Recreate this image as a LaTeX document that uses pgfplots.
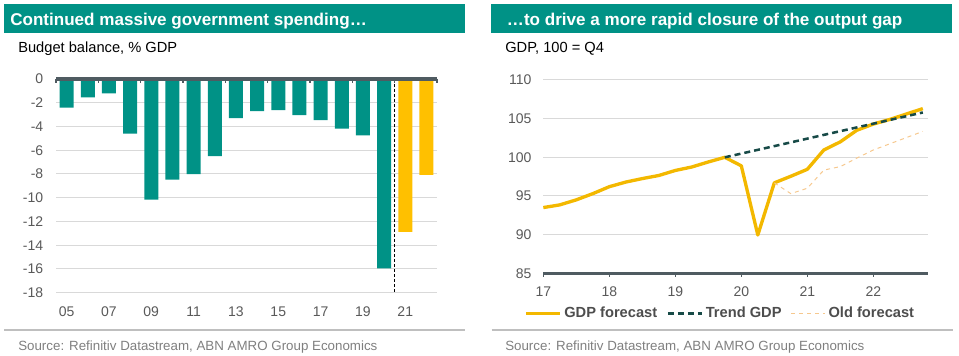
\documentclass[border=0pt]{standalone}
\usepackage{pgfplots}
\pgfplotsset{compat=1.18}
\usepackage{fontspec}
\setmainfont{Liberation Sans}
\definecolor{abngreen}{HTML}{009286}
\definecolor{abnyellow}{HTML}{FFC000}
\definecolor{gdpline}{HTML}{F3B800}
\definecolor{trenddark}{HTML}{174A47}
\definecolor{oldfc}{HTML}{F6C88E}
\definecolor{axisgrey}{HTML}{4F5B61}
\definecolor{gridgrey}{HTML}{D9D9D9}
\definecolor{ticktext}{HTML}{595959}
\definecolor{srcgrey}{HTML}{7F7F7F}
\definecolor{rulegrey}{HTML}{BFBFBF}
\definecolor{legtext}{HTML}{4D4D4D}

\pgfplotstableread{
x y
0 -2.42
1 -1.55
2 -1.22
3 -4.60
4 -10.15
5 -8.47
6 -8.02
7 -6.50
8 -3.30
9 -2.70
10 -2.62
11 -3.04
12 -3.46
13 -4.19
14 -4.75
15 -15.95
}\histbal
\pgfplotstableread{
x y
16 -12.88
17 -8.07
}\fcbal
\pgfplotstableread{
x y
17.00 93.50
17.25 93.85
17.50 94.50
17.75 95.30
18.00 96.20
18.25 96.80
18.50 97.25
18.75 97.65
19.00 98.30
19.25 98.75
19.50 99.40
19.75 100.00
20.00 98.90
20.25 89.95
20.50 96.70
20.75 97.55
21.00 98.45
21.25 100.95
21.50 102.00
21.75 103.50
22.00 104.30
22.25 104.90
22.50 105.60
22.75 106.30
}\gdp
\pgfplotstableread{
x y
19.75 100.00
22.75 105.80
}\trend
\pgfplotstableread{
x y
20.50 96.70
20.75 95.30
21.00 96.00
21.25 98.35
21.50 98.80
21.75 99.90
22.00 100.95
22.25 101.75
22.50 102.55
22.75 103.35
}\oldfc

\begin{document}
\begin{tikzpicture}
\useasboundingbox (0,0) rectangle (719.25pt,267pt);
% ---------- non-axis decorations in pixel coordinates ----------
\begin{scope}[x=0.75pt,y=-0.75pt,shift={(0pt,267pt)}]
  \fill[abngreen] (4,4) rectangle (465,32.7);
  \fill[abngreen] (491,4) rectangle (951.7,32.7);
  \node[anchor=base west,inner sep=0pt,text=white,font=\bfseries\fontsize{12.8}{15}\selectfont] at (10,26) {Continued massive government spending…};
  \node[anchor=base west,inner sep=0pt,text=white,font=\bfseries\fontsize{12.8}{15}\selectfont] at (506.7,26) {…to drive a more rapid closure of the output gap};
  \node[anchor=base west,inner sep=0pt,font=\fontsize{11}{13}\selectfont] at (18,52.3) {Budget balance, \% GDP};
  \node[anchor=base west,inner sep=0pt,font=\fontsize{11}{13}\selectfont] at (505,52.3) {GDP, 100 = Q4};
  \draw[rulegrey,line width=1.5pt] (4,330) -- (465,330);
  \draw[rulegrey,line width=1.5pt] (491.7,330.5) -- (952.7,330.5);
  \node[anchor=base west,inner sep=0pt,text=srcgrey,font=\fontsize{10}{12}\selectfont] at (18,350.7) {Source: Refinitiv Datastream, ABN AMRO Group Economics};
  \node[anchor=base west,inner sep=0pt,text=srcgrey,font=\fontsize{10}{12}\selectfont] at (505,350.7) {Source: Refinitiv Datastream, ABN AMRO Group Economics};
\end{scope}

% ---------- left: budget balance ----------
\begin{axis}[
  at={(42pt,47.475pt)}, anchor=south west, scale only axis,
  width=285.75pt, height=160.275pt,
  xmin=-0.5, xmax=17.5, ymin=-18, ymax=0,
  ytick={-18,-16,...,0},
  xtick={0,2,...,16}, xticklabels={05,07,09,11,13,15,17,19,21},
  axis line style={draw=none}, major tick length=0pt,
  ymajorgrids, grid style={gridgrey,line width=0.75pt},
  /pgf/number format/assume math mode=true,
  tick label style={font=\fontsize{10.5}{12}\selectfont, text=ticktext, inner sep=0pt},
  yticklabel style={anchor=east, xshift=-9.4pt},
  xticklabel style={anchor=base, yshift=-17.5pt},
  clip=false,
]
\addplot[ybar, bar shift=0pt, bar width=10.5pt, fill=abngreen, draw=none] table[x=x,y=y] {\histbal};
\addplot[ybar, bar shift=0pt, bar width=10.5pt, fill=abnyellow, draw=none] table[x=x,y=y] {\fcbal};
\draw[black, line width=0.75pt, dash pattern=on 2.25pt off 1.5pt] (axis cs:15.5,0) -- (axis cs:15.5,-18);
\draw[axisgrey, line width=2.4pt] (axis cs:-0.5,0) -- (axis cs:17.5,0);
\pgfplotsinvokeforeach{-0.5,1.5,...,17.5}{\draw[axisgrey,line width=1.2pt] (axis cs:#1,0) -- ([yshift=-3pt]axis cs:#1,0);}
\end{axis}

% ---------- right: GDP ----------
\begin{axis}[
  at={(407.475pt,62.025pt)}, anchor=south west, scale only axis,
  width=288.75pt, height=144.975pt,
  xmin=17, xmax=22.833, ymin=85, ymax=110,
  ytick={85,90,...,110}, xtick={17,...,22},
  axis line style={draw=none}, major tick length=0pt,
  ymajorgrids, grid style={gridgrey,line width=0.75pt},
  /pgf/number format/assume math mode=true,
  tick label style={font=\fontsize{10.5}{12}\selectfont, text=ticktext, inner sep=0pt},
  yticklabel style={anchor=east, xshift=-8.7pt},
  xticklabel style={anchor=base, yshift=-17.2pt},
  clip=false,
  legend style={draw=none, fill=none, legend columns=3,
    at={(-0.05,-0.207)}, anchor=west,
    font=\bfseries\fontsize{11}{13}\selectfont, text=legtext,
    inner xsep=0pt, inner ysep=0pt,
    /tikz/every even column/.append style={column sep=5pt}},
  legend image code/.code={\draw[#1] (0pt,0pt) -- (25.5pt,0pt);},
]
\draw[axisgrey, line width=2.4pt] (axis cs:17,85) -- (axis cs:22.833,85);
\pgfplotsinvokeforeach{17,...,22}{\draw[axisgrey,line width=1.2pt] (axis cs:#1,85) -- ([yshift=-3pt]axis cs:#1,85);}
\addplot[gdpline, line width=2.5pt, line join=round] table[x=x,y=y] {\gdp};
\addlegendentry{GDP forecast}
\addplot[trenddark, line width=1.9pt, dash pattern=on 4.5pt off 3pt] table[x=x,y=y] {\trend};
\addlegendentry{Trend GDP}
\addplot[oldfc, line width=0.75pt, dash pattern=on 3pt off 3pt] table[x=x,y=y] {\oldfc};
\addlegendentry{Old forecast}
\end{axis}
\end{tikzpicture}
\end{document}
